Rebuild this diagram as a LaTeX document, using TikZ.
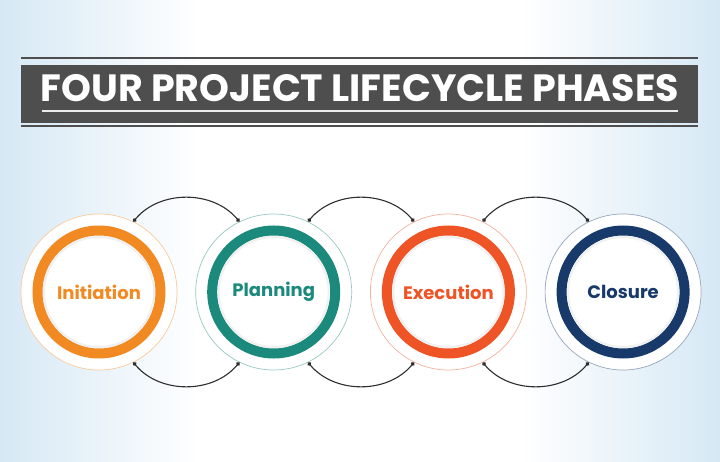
\documentclass[tikz,border=0pt]{standalone}
\usepackage{fontspec}
\setmainfont{Poppins}
\usetikzlibrary{%
    arrows.meta,
    backgrounds,
    positioning
}
\definecolor{bgblue}{HTML}{D6E8F5}
\definecolor{bannergrey}{HTML}{4E4E4E}
\definecolor{linkgrey}{HTML}{2E2E2E}
\definecolor{initorange}{HTML}{F28A24}
\definecolor{planteal}{HTML}{1B8A7C}
\definecolor{execred}{HTML}{EE5425}
\definecolor{closenavy}{HTML}{173A6B}

\begin{document}
\begin{tikzpicture}[x=1pt, y=-1pt,
        phase/.style={circle, draw=#1!45, line width=.7pt, fill=white,
                      minimum size=156pt, inner sep=0pt, text=#1,
                      font=\bfseries\fontsize{18}{18}\selectfont},
        link/.style={linkgrey, line width=1.1pt,
                     {Circle[length=4pt]}-{Circle[length=4pt]}}
    ]
    \useasboundingbox (0,0) rectangle (720,462);
    \fill[white] (0,0) rectangle (720,462);
    \shade[left color=bgblue, right color=white] (0,0) rectangle (200,462);
    \shade[left color=white, right color=bgblue] (520,0) rectangle (720,462);

    % title banner
    \draw[bannergrey, line width=2pt] (21,58.5) -- (698,58.5);
    \fill[bannergrey] (21,65) rectangle (698,123);
    \draw[bannergrey, line width=2pt] (21,126.5) -- (698,126.5);
    \draw[white!85!gray, line width=1.5pt] (42,111) -- (678,111);
    \node (title) [anchor=base, text=white,
                   font=\bfseries\fontsize{38}{38}\selectfont]
        at (360,102) {FOUR PROJECT LIFECYCLE PHASES};

    % phases
    \node (init)  [phase=initorange] at (99,292) {Initiation};
    \node (plan)  [phase=planteal,  right=18pt of init]  {Planning};
    \node (exec)  [phase=execred,   right=18pt of plan]  {Execution};
    \node (close) [phase=closenavy, right=18pt of exec]  {Closure};

    \foreach \Node/\Colour in {init/initorange, plan/planteal,
                               exec/execred, close/closenavy} {
        \draw[\Colour, line width=10pt] (\Node.center) circle[radius=61.5pt];
        \draw[gray!12, line width=2pt] (\Node.center) circle[radius=55pt];
    }

    \foreach \From/\To in {init/plan, plan/exec, exec/close} {
        \draw[link] (\From.64) to[bend left=50] (\To.116);
        \draw[link] (\From.-64) to[bend right=50] (\To.-116);
    }
\end{tikzpicture}
\end{document}
